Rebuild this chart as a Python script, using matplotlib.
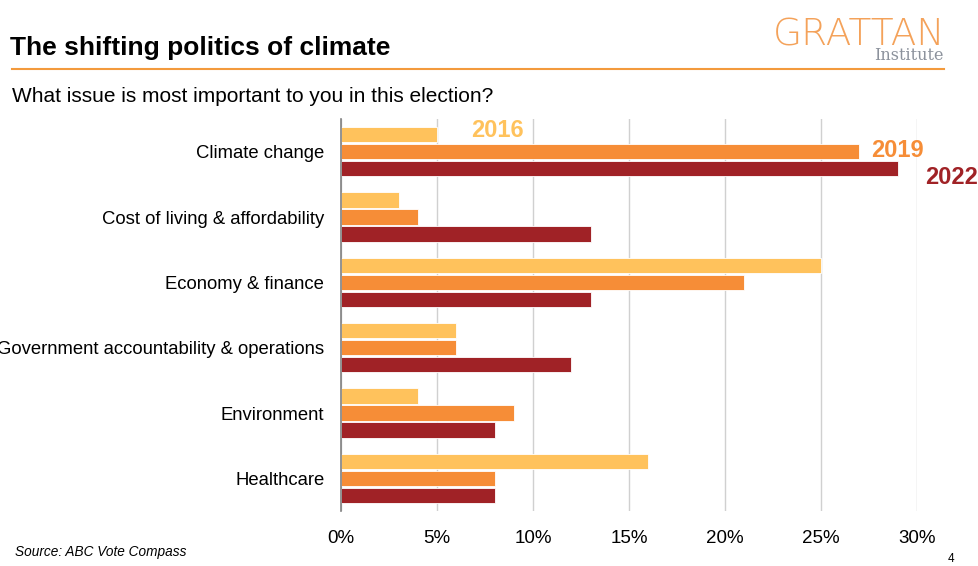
import numpy as np
import matplotlib.pyplot as plt

plt.rcParams['font.family'] = ['Liberation Sans', 'DejaVu Sans']

issues = ["Climate change", "Cost of living & affordability", "Economy & finance",
          "Government accountability & operations", "Environment", "Healthcare"]
years = ["2016", "2019", "2022"]
share_2016 = [5, 3, 25, 6, 4, 16]
share_2019 = [27, 4, 21, 6, 9, 8]
share_2022 = [29, 13, 13, 12, 8, 8]
xticks = [0, 5, 10, 15, 20, 25, 30]

colors = ["#FFC25C", "#F68D37", "#A02226"]
series = [share_2016, share_2019, share_2022]

fig = plt.figure(figsize=(9.79, 5.66), dpi=100)
ax = fig.add_axes([341/979, 1 - 511/566, (917 - 341)/979, (511 - 119)/566])

y = np.arange(len(issues))
step = 0.262
for i, (vals, c) in enumerate(zip(series, colors)):
    ax.barh(y + (i - 1) * step, vals, height=0.235, color=c, edgecolor='white',
            linewidth=0.6, zorder=3)

ax.set_ylim(len(issues) - 0.5, -0.5)
ax.set_xlim(0, 30)
ax.set_xticks(xticks)
ax.set_xticklabels([f"{t}%" for t in xticks], fontsize=13.5)
ax.set_yticks(y)
ax.set_yticklabels(issues, fontsize=13.3)
ax.tick_params(axis='y', length=0, pad=12)
ax.tick_params(axis='x', length=0, pad=14)
ax.grid(axis='x', color='#D0D0D0', linewidth=1, zorder=0)
for s in ['top', 'right', 'bottom']:
    ax.spines[s].set_visible(False)
ax.spines['left'].set_color('#808080')
ax.spines['left'].set_linewidth(1.2)
ax.spines['left'].set_zorder(4)

# year labels placed next to the climate bars
ax.text(6.8, -step - 0.06, years[0], color=colors[0], fontsize=17, fontweight='bold',
        va='center', ha='left')
ax.text(27.6, -0.02, years[1], color=colors[1], fontsize=17, fontweight='bold',
        va='center', ha='left')
ax.text(30.4, step + 0.14, years[2], color=colors[2], fontsize=17, fontweight='bold',
        va='center', ha='left', clip_on=False)

# header
fig.text(10/979, 1 - 48/566, "The shifting politics of climate", fontsize=19,
         fontweight='bold', va='center', ha='left')
fig.add_artist(plt.Line2D([12/979, 944/979], [1 - 69/566, 1 - 69/566],
                          color='#F39A3C', linewidth=1.5))
fig.text(12/979, 1 - 97/566, "What issue is most important to you in this election?",
         fontsize=15, va='center', ha='left')
fig.text(945/979, 1 - 45/566, "GRATTAN", fontsize=27, color='#F4A25A',
         family='DejaVu Sans', fontweight='light', va='baseline', ha='right')
fig.text(944/979, 1 - 60/566, "Institute", fontsize=11.5, color='#8C929C',
         family='DejaVu Serif', va='baseline', ha='right')

# footer
fig.text(15/979, 1 - 552/566, "Source: ABC Vote Compass", fontsize=9.8,
         style='italic', va='center', ha='left')
fig.text(951/979, 1 - 559/566, "4", fontsize=8.5, va='center', ha='center')

fig.savefig("out.png", dpi=100)
